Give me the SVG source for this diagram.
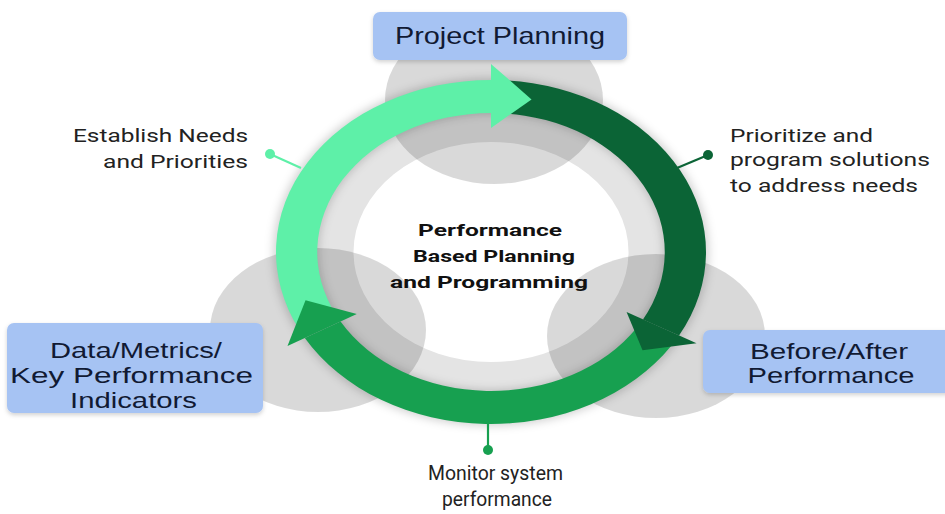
<svg xmlns="http://www.w3.org/2000/svg" width="945" height="514" viewBox="0 0 945 514">
  <defs>
    <filter id="ringShadow" x="-20%" y="-20%" width="140%" height="140%">
      <feGaussianBlur stdDeviation="4"/>
    </filter>
    <filter id="boxShadow" x="-10%" y="-20%" width="120%" height="150%">
      <feDropShadow dx="0" dy="2" stdDeviation="2" flood-color="#000" flood-opacity="0.18"/>
    </filter>
  </defs>
  <style>
    .blob { fill: #000; fill-opacity: 0.15; }
    .box { fill: #a6c3f3; filter: url(#boxShadow); }
    .boxText { font-family: "Liberation Sans", Arial, sans-serif; fill: #111a33; text-anchor: middle; }
    .note { font-family: Roboto, "Liberation Sans", sans-serif; font-size: 18px; fill: #222; }
    .center { font-family: Roboto, "Liberation Sans", sans-serif; font-size: 17px; font-weight: bold; fill: #111; text-anchor: middle; }
    .light { fill: #5ef0a8; }
    .dark { fill: #0b6436; }
    .mid { fill: #17a050; }
  </style>
  <rect width="945" height="514" fill="#ffffff"/>

  <!-- inner rings -->
  <g id="hub-base" transform="translate(491,252) scale(1.25,1)">
    <circle r="140" fill="#e4e4e4"/>
    <circle r="110" fill="#ffffff"/>
    <circle r="156" fill="none" stroke="#000" stroke-opacity="0.18" stroke-width="36" filter="url(#ringShadow)"/>
  </g>

  <!-- gray blobs -->
  <g id="blobs">
    <ellipse class="blob" cx="494" cy="100" rx="109" ry="84"/>
    <ellipse class="blob" cx="318" cy="330" rx="108" ry="82"/>
    <ellipse class="blob" cx="656" cy="336" rx="109" ry="82"/>
  </g>

  <!-- cycle arrows -->
  <g id="cycle" transform="translate(491,252) scale(1.25,1)">
    <path class="light" d="M -153.25 78.09 A 172 172 0 0 1 0 -172 L 0 -139 A 139 139 0 0 0 -123.85 63.11 Z"/>
    <path class="dark" d="M 12 -171.59 A 172 172 0 0 1 150.43 83.39 L 121.57 67.39 A 139 139 0 0 0 9.7 -138.67 Z"/>
    <path class="mid" d="M 144.26 93.67 A 172 172 0 0 1 -148.95 86 L -120.37 69.5 A 139 139 0 0 0 116.58 75.7 Z"/>
    <path class="light" d="M 0 -188 L 32.43 -152.58 L 0 -124 Z"/>
    <path class="dark" d="M 164.42 91.14 L 121.23 98.17 L 108.45 60.12 Z"/>
    <path class="mid" d="M -162.81 94 L -148.37 48.2 L -107.38 62 Z"/>
  </g>

  <!-- connectors (leader lines) -->
  <g id="connectors" stroke-width="2.2">
    <line x1="270" y1="154" x2="301" y2="168" stroke="#5ef0a8"/>
    <circle cx="270" cy="154" r="5" fill="#5ef0a8"/>
    <line x1="708" y1="155" x2="677" y2="168" stroke="#0b6436"/>
    <circle cx="708" cy="155" r="5" fill="#0b6436"/>
    <line x1="488" y1="423" x2="488" y2="448" stroke="#17a050"/>
    <circle cx="488" cy="450" r="5" fill="#17a050"/>
  </g>

  <g id="node-center">
    <text class="center" x="490" y="236" textLength="144" lengthAdjust="spacingAndGlyphs">Performance</text>
    <text class="center" x="494" y="262" textLength="162" lengthAdjust="spacingAndGlyphs">Based Planning</text>
    <text class="center" x="489" y="288" textLength="198" lengthAdjust="spacingAndGlyphs">and Programming</text>
  </g>

  <g id="node-project-planning">
    <rect class="box" x="373" y="12" width="254" height="48" rx="7"/>
    <text class="boxText" x="500" y="44" font-size="24" textLength="210" lengthAdjust="spacingAndGlyphs">Project Planning</text>
  </g>

  <g id="node-data-metrics">
    <rect class="box" x="7" y="323" width="256" height="90" rx="7"/>
    <text class="boxText" x="136" y="358" font-size="22" textLength="172" lengthAdjust="spacingAndGlyphs">Data/Metrics/</text>
    <text class="boxText" x="131.5" y="383" font-size="22" textLength="243" lengthAdjust="spacingAndGlyphs">Key Performance</text>
    <text class="boxText" x="133.5" y="408" font-size="22" textLength="127" lengthAdjust="spacingAndGlyphs">Indicators</text>
  </g>

  <g id="node-before-after">
    <rect class="box" x="703" y="330" width="250" height="63" rx="7"/>
    <text class="boxText" x="829" y="359" font-size="22" textLength="158" lengthAdjust="spacingAndGlyphs">Before/After</text>
    <text class="boxText" x="831" y="383" font-size="22" textLength="167" lengthAdjust="spacingAndGlyphs">Performance</text>
  </g>

  <g id="node-establish">
    <text class="note" x="248" y="142" text-anchor="end" textLength="175" lengthAdjust="spacingAndGlyphs">Establish Needs</text>
    <text class="note" x="248" y="168" text-anchor="end" textLength="145" lengthAdjust="spacingAndGlyphs">and Priorities</text>
  </g>

  <g id="node-prioritize">
    <text class="note" x="730" y="142" textLength="143" lengthAdjust="spacingAndGlyphs">Prioritize and</text>
    <text class="note" x="730" y="166" textLength="200" lengthAdjust="spacingAndGlyphs">program solutions</text>
    <text class="note" x="730" y="192" textLength="188" lengthAdjust="spacingAndGlyphs">to address needs</text>
  </g>

  <g id="node-monitor">
    <text class="note" x="495.5" y="480" text-anchor="middle" font-size="20" style="font-size:20px" textLength="135" lengthAdjust="spacingAndGlyphs">Monitor system</text>
    <text class="note" x="497" y="506" text-anchor="middle" style="font-size:20px" textLength="110" lengthAdjust="spacingAndGlyphs">performance</text>
  </g>
</svg>
